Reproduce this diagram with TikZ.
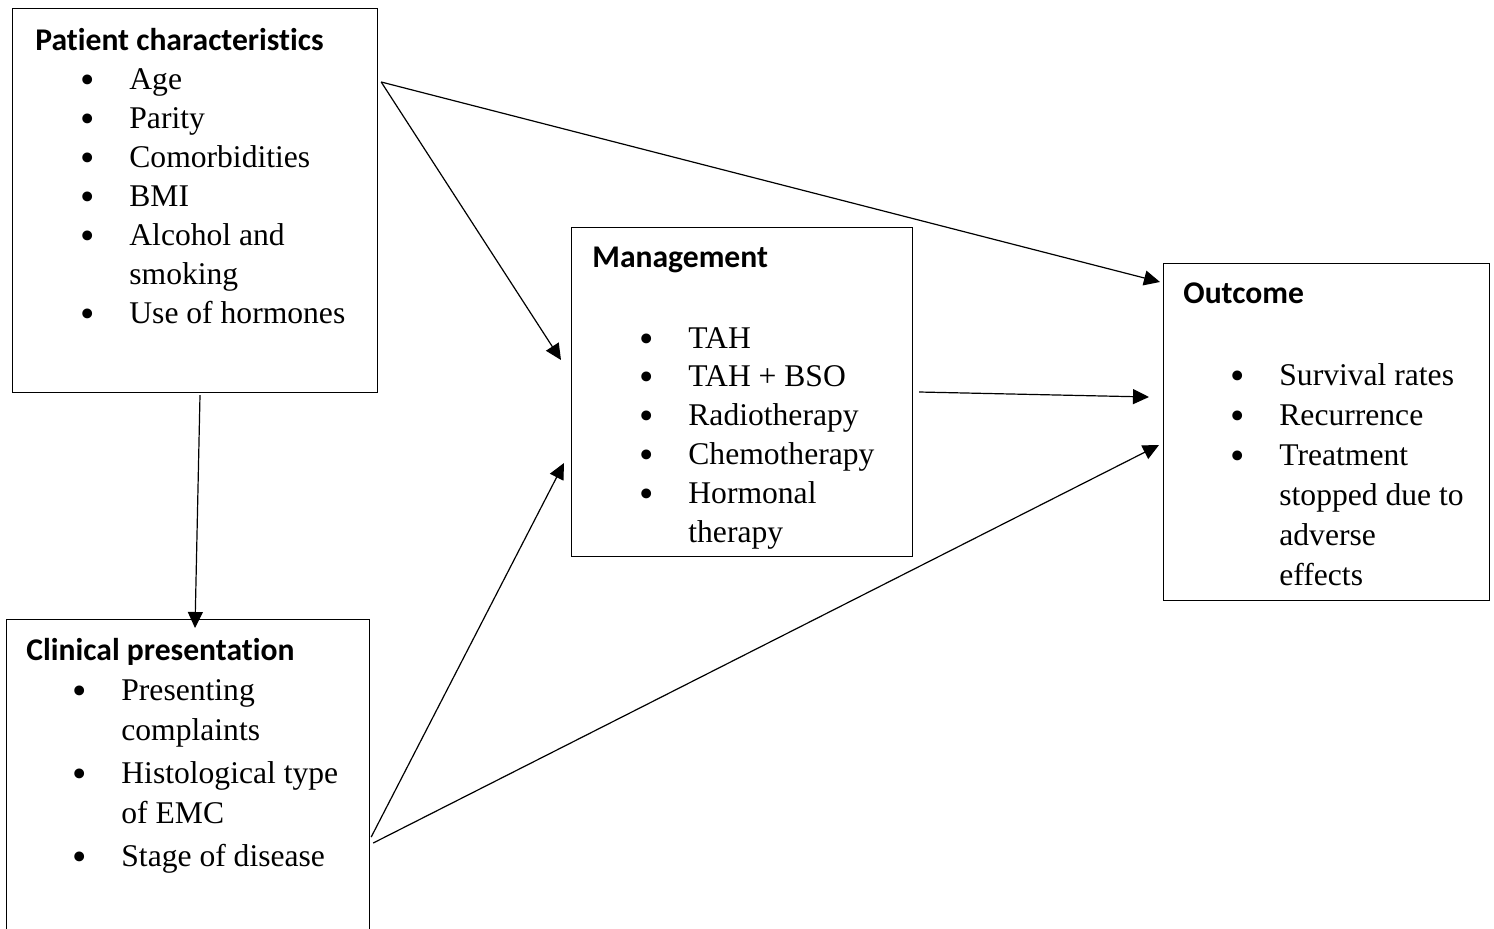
\documentclass[tikz,border=0pt]{standalone}
\usepackage{fontspec}
\setmainfont{Liberation Serif}
\newfontfamily\headfont[Ligatures={NoCommon}]{Carlito}
\usetikzlibrary{positioning,arrows.meta}
\newcommand{\itemdot}{\makebox[5.5pt][c]{\smash{\raisebox{-2pt}{\scalebox{1.3}{\textbullet}}}}}
\tikzset{
  frame/.style 2 args={
    draw,
    line width=0.6pt,
    minimum width={#1*0.5pt},
    minimum height={#2*0.5pt},
    anchor=north west,
    inner sep=0pt,
  },
  heading/.style={
    anchor=base west,
    inner sep=0pt,
    font=\headfont\bfseries\fontsize{15.8}{19}\selectfont,
  },
  items/.style={
    anchor=base west,
    inner sep=0pt,
    font=\fontsize{15.8}{#1}\selectfont,
  },
  link/.style={
    line width=0.6pt,
    -{Triangle[length=8pt,width=7.5pt]},
  }
}

\begin{document}
\begin{tikzpicture}[x=0.5pt,y=0.5pt]
        \useasboundingbox (0,0) rectangle (1494,-928);

        \node [frame={365}{384}] (pat) at (12,-8) {};
        \node [frame={363}{330}] (clin) at (6,-619) {};
        \node [frame={341}{329}] (mgmt) at (571,-227) {};
        \node [frame={326}{337}] (outc) at (1163,-263) {};

        \node [heading] (pat title) at ([shift={(23,-42)}]pat.north west) {Patient characteristics};
        \node [heading] (clin title) at ([shift={(20,-41)}]clin.north west) {Clinical presentation};
        \node [heading] (mgmt title) at ([shift={(21,-40)}]mgmt.north west) {Management};
        \node [heading] (outc title) at ([shift={(20,-40)}]outc.north west) {Outcome};

        \node [items=19.5pt] (pat list) at ([shift={(70,-81)}]pat.north west) {%
          \begin{tabular}[t]{@{}l@{\hspace{18pt}}l@{}}
            \itemdot & Age\\
            \itemdot & Parity\\
            \itemdot & Comorbidities\\
            \itemdot & BMI\\
            \itemdot & Alcohol and\\
                     & smoking\\
            \itemdot & Use of hormones
          \end{tabular}};
        \node [items=20pt] (clin list) at ([shift={(68,-81)}]clin.north west) {%
          \begin{tabular}[t]{@{}l@{\hspace{18pt}}l@{}}
            \itemdot & Presenting\\
                     & complaints\\[1.5pt]
            \itemdot & Histological type\\
                     & of EMC\\[1.5pt]
            \itemdot & Stage of disease
          \end{tabular}};
        \node [items=19.4pt] (mgmt list) at ([shift={(70,-121)}]mgmt.north west) {%
          \begin{tabular}[t]{@{}l@{\hspace{18pt}}l@{}}
            \itemdot & TAH\\
            \itemdot & TAH + BSO\\
            \itemdot & Radiotherapy\\
            \itemdot & Chemotherapy\\
            \itemdot & Hormonal\\
                     & therapy
          \end{tabular}};
        \node [items=20pt] (outc list) at ([shift={(69,-122)}]outc.north west) {%
          \begin{tabular}[t]{@{}l@{\hspace{18pt}}l@{}}
            \itemdot & Survival rates\\
            \itemdot & Recurrence\\
            \itemdot & Treatment\\
                     & stopped due to\\
                     & adverse\\
                     & effects
          \end{tabular}};

        \draw [link] ([shift={(3,-74)}]pat.north east) -- ([shift={(-3,-19)}]outc.north west);
        \draw [link] ([shift={(3,-74)}]pat.north east) -- ([shift={(-10,-133)}]mgmt.north west);
        \draw [link] ([shift={(188,-2)}]pat.south west) -- ([shift={(189,-9)}]clin.north west);
        \draw [link] ([shift={(1,-218)}]clin.north east) -- ([shift={(-7,-236)}]mgmt.north west);
        \draw [link] ([shift={(3,-224)}]clin.north east) -- ([shift={(-4,-182)}]outc.north west);
        \draw [link] ([shift={(6,-165)}]mgmt.north east) -- ([shift={(-14,-134)}]outc.north west);
      \end{tikzpicture}
\end{document}
